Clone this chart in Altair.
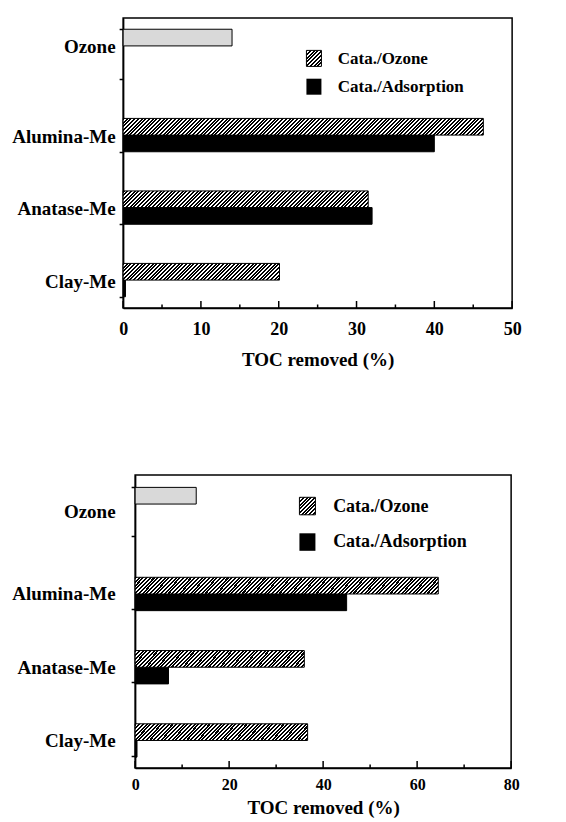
import altair as alt
import pandas as pd

categories = ["Ozone", "Alumina-Me", "Anatase-Me", "Clay-Me"]
catalysts = ["Alumina-Me", "Anatase-Me", "Clay-Me"]
series_names = ["Ozone", "Cata./Ozone", "Cata./Adsorption"]
legend_labels = ["Cata./Ozone", "Cata./Adsorption"]
x_title = "TOC removed (%)"

# top panel
ozone_top = 14.0
cata_ozone_top = [46.3, 31.5, 20.1]
cata_ads_top = [40.0, 32.0, 0.3]
xticks_top = [0, 10, 20, 30, 40, 50]
xminor_top = [5, 15, 25, 35, 45]

# bottom panel
ozone_bot = 13.0
cata_ozone_bot = [64.5, 36.0, 36.7]
cata_ads_bot = [45.0, 7.1, 0.4]
xticks_bot = [0, 20, 40, 60, 80]
xminor_bot = [10, 30, 50, 70]

FONT = "Liberation Serif"


def hatch(w, h, period=3.7, frac=0.55):
    # diagonal "////" stripes: gradient along (W, H) so that t = (X + Y) / (W + H)
    k = (1 + h / w) / (1 + (h / w) ** 2)
    L = w + h
    stops = []
    i = 0
    while i * period / L < 1:
        a = i * period / L
        b = min((i + frac) * period / L, 1)
        c = min((i + 1) * period / L, 1)
        stops += [
            {"offset": round(a, 5), "color": "black"},
            {"offset": round(b, 5), "color": "black"},
            {"offset": round(b, 5), "color": "white"},
            {"offset": round(c, 5), "color": "white"},
        ]
        i += 1
    return {"gradient": "linear", "x1": 0, "y1": 0, "x2": k, "y2": k * h / w, "stops": stops}


def panel(oz, co, ca, xmax, majors, minors, W, H, p, ylab_pad, off_oz, off_other,
          xlab_size, xlab_pad, title_pad, leg, right_room=0):
    rows = [("Ozone", "Ozone", oz)]
    rows += [(c, "Cata./Ozone", v) for c, v in zip(catalysts, co)]
    rows += [(c, "Cata./Adsorption", v) for c, v in zip(catalysts, ca)]
    df = pd.DataFrame(rows, columns=["category", "series", "value"])

    xaxis = alt.Axis(values=majors, title=x_title, labelFlush=False, ticks=False, tickSize=0,
                     grid=False, labelFontSize=xlab_size, labelPadding=xlab_pad,
                     titleFontSize=19, titlePadding=title_pad, domainWidth=1.5, format="d")
    xenc = alt.X("value:Q", scale=alt.Scale(domain=[0, xmax], nice=False), axis=xaxis)
    yaxis = alt.Axis(title=None, tickBand="extent", tickSize=4, tickWidth=1.5,
                     labelFontSize=19, labelPadding=ylab_pad, domainWidth=1.5, grid=False,
                     labelOffset={"condition": {"test": "datum.value === 'Ozone'", "value": off_oz},
                                  "value": off_other})
    yenc = alt.Y("category:N", scale=alt.Scale(domain=categories, paddingInner=p,
                                               paddingOuter=p / 2), axis=yaxis)
    yoff = alt.YOffset("series:N", scale=alt.Scale(domain=series_names, paddingInner=0,
                                                    paddingOuter=0))
    base = alt.Chart(df)
    bar_h = (H / 4) * (1 - p) / 3

    layers = [
        base.transform_filter("datum.series !== 'Cata./Ozone'").mark_bar(
            stroke="black", strokeWidth=1).encode(
            x=xenc, y=yenc, yOffset=yoff,
            fill=alt.Fill("series:N", scale=alt.Scale(domain=["Ozone", "Cata./Adsorption"],
                                                      range=["#d9d9d9", "black"]), legend=None))
    ]
    for c, v in zip(catalysts, co):
        layers.append(
            base.transform_filter(f"datum.category === '{c}' && datum.series === 'Cata./Ozone'")
            .mark_bar(fill=hatch(v * W / xmax, bar_h), stroke="black", strokeWidth=1)
            .encode(x=xenc, y=yenc, yOffset=yoff))
    layers.append(alt.Chart(pd.DataFrame({"value": majors})).mark_rule(
        color="black", strokeWidth=1.5).encode(x=xenc, y=alt.value(H), y2=alt.value(H - 7)))
    layers.append(alt.Chart(pd.DataFrame({"value": minors})).mark_rule(
        color="black", strokeWidth=1.5).encode(x=xenc, y=alt.value(H), y2=alt.value(H - 3.5)))

    sx, sw, sh, y1, y2, tx, t1, t2, fs = leg
    ldf = pd.DataFrame({"label": legend_labels})
    layers.append(alt.Chart(ldf.iloc[[0]]).mark_rect(
        fill=hatch(sw, sh), stroke="black", strokeWidth=1).encode(
        x=alt.value(sx), x2=alt.value(sx + sw), y=alt.value(y1), y2=alt.value(y1 + sh)))
    layers.append(alt.Chart(ldf.iloc[[1]]).mark_rect(fill="black").encode(
        x=alt.value(sx), x2=alt.value(sx + sw), y=alt.value(y2), y2=alt.value(y2 + sh)))
    for idx, ty in ((0, t1), (1, t2)):
        layers.append(alt.Chart(ldf.iloc[[idx]]).mark_text(
            align="left", baseline="middle", font=FONT, fontWeight="bold", fontSize=fs,
            color="black").encode(x=alt.value(tx), y=alt.value(ty), text="label:N"))
    if right_room:
        # invisible spacer that widens the panel's bounds on the right (layout only)
        layers.append(alt.Chart(ldf.iloc[[0]]).mark_rule(strokeOpacity=0).encode(
            x=alt.value(W + right_room), y=alt.value(H / 2), y2=alt.value(H / 2 + 1)))

    return alt.layer(*layers).properties(width=W, height=H)


top = panel(ozone_top, cata_ozone_top, cata_ads_top, 50, xticks_top, xminor_top,
            389, 290, 0.31, 4, -7.5, 9.3, 18, 12, 12,
            (183.3, 15, 16, 32.4, 60.7, 214.6, 40.7, 69.0, 17), right_room=19)
bottom = panel(ozone_bot, cata_ozone_bot, cata_ads_bot, 80, xticks_bot, xminor_bot,
               376, 293, 0.338, 16, 0, 9, 16, 8, 6,
               (164.3, 16, 17.5, 22.3, 58.3, 198, 31.7, 67.3, 18))

chart = alt.vconcat(top, bottom, spacing=95, center=True).properties(
    padding={"left": 2, "top": 0, "right": 5, "bottom": 0}
).configure_view(stroke="black", strokeWidth=1.5).configure_axis(
    labelFont=FONT, titleFont=FONT, labelFontWeight="bold", titleFontWeight="bold",
    labelColor="black", titleColor="black", domainColor="black", tickColor="black")

chart.save("out.html", embed_options={"renderer": "svg", "actions": False})
